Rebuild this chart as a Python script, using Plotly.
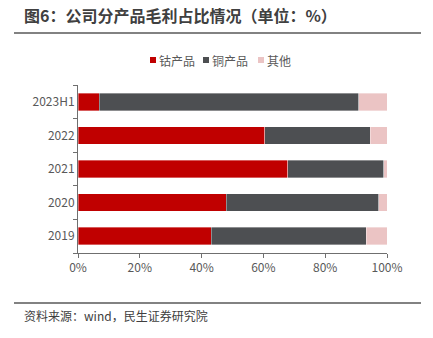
import plotly.graph_objects as go

categories = ["2019", "2020", "2021", "2022", "2023H1"]
cobalt = [43.2, 47.9, 67.9, 60.5, 6.8]
copper = [50.1, 49.5, 31.0, 34.0, 84.0]
other = [6.7, 2.6, 1.1, 5.5, 9.2]
series_names = ["钴产品", "铜产品", "其他"]
x_ticks = [0, 20, 40, 60, 80, 100]
x_tick_labels = ["0%", "20%", "40%", "60%", "80%", "100%"]

colors = ["#C00000", "#4D4F52", "#EBC4C4"]
font_cjk = "Noto Sans CJK SC, Microsoft YaHei, sans-serif"

# plot area in pixels
L, R, T, B = 78, 387, 85, 253
W, H = R - L, B - T


def px(x):
    return (x - L) / W


def py(y):
    return (B - y) / H


fig = go.Figure()
for name, vals, c in zip(series_names, [cobalt, copper, other], colors):
    fig.add_trace(go.Bar(
        y=categories, x=vals, name=name, orientation="h",
        marker=dict(color=c, line=dict(color="rgba(255,255,255,0.6)", width=0.6)),
        width=0.52,
    ))

fig.update_layout(
    barmode="stack",
    width=433, height=338,
    margin=dict(l=L, r=433 - R, t=T, b=338 - B),
    paper_bgcolor="white", plot_bgcolor="white",
    font=dict(family=font_cjk, size=12, color="#595959"),
    showlegend=False,
    xaxis=dict(range=[0, 100], tickvals=x_ticks, ticktext=x_tick_labels,
               showgrid=False, zeroline=False, showline=True, linecolor="#6F6F6F",
               linewidth=1, ticks="outside", ticklen=4, tickcolor="#6F6F6F",
               tickfont=dict(size=12, color="#595959")),
    yaxis=dict(type="category", categoryorder="array", categoryarray=categories,
               showgrid=False, showline=True, linecolor="#6F6F6F", linewidth=1,
               ticks="outside", ticklen=4, tickcolor="#6F6F6F", tickson="boundaries",
               tickfont=dict(size=12, color="#595959")),
)

# legend (manual, to match compact layout)
legend_sq_x = [150, 203, 258]
for name, c, sx in zip(series_names, colors, legend_sq_x):
    fig.add_shape(type="rect", xref="paper", yref="paper",
                  x0=px(sx), x1=px(sx + 6), y0=py(63), y1=py(57),
                  fillcolor=c, line=dict(width=0))
    fig.add_annotation(text=name, xref="paper", yref="paper",
                       x=px(sx + 7), y=py(60), xanchor="left", yanchor="middle",
                       showarrow=False, font=dict(size=12, color="#595959", family=font_cjk))

fig.add_annotation(text="<b>图6：公司分产品毛利占比情况（单位：%）</b>", xref="paper", yref="paper",
                   x=px(22), y=py(15), xanchor="left", yanchor="middle",
                   showarrow=False, font=dict(size=16, color="#404040", family=font_cjk))
fig.add_annotation(text="资料来源：wind，民生证券研究院", xref="paper", yref="paper",
                   x=px(22), y=py(315), xanchor="left", yanchor="middle",
                   showarrow=False, font=dict(size=12, color="#404040", family=font_cjk))
for yline in (33, 303):
    fig.add_shape(type="line", xref="paper", yref="paper",
                  x0=px(14), x1=px(421), y0=py(yline), y1=py(yline),
                  line=dict(color="#595959", width=1.5))

fig.write_html("out.html")
